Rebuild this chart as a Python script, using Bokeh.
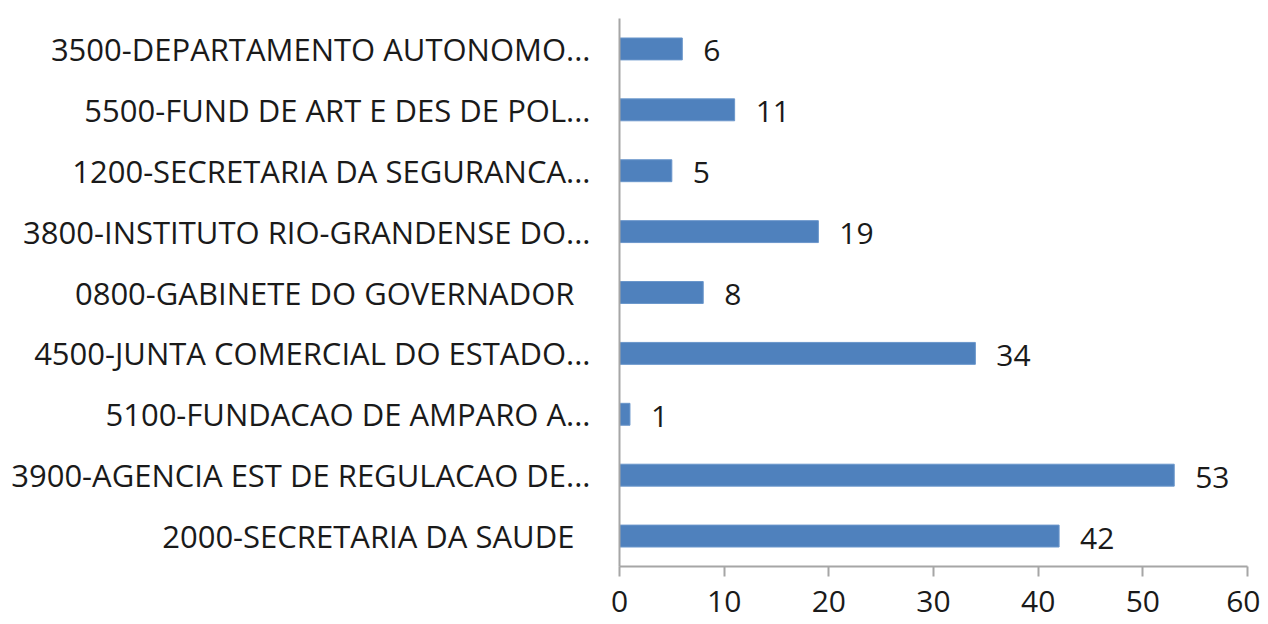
from bokeh.plotting import figure
from bokeh.models import ColumnDataSource, FactorRange, Range1d, FixedTicker, LabelSet
from bokeh.core.properties import value
from bokeh.embed import file_html
from bokeh.resources import INLINE

categories = [
    "3500-DEPARTAMENTO AUTONOMO...",
    "5500-FUND DE ART E DES DE POL...",
    "1200-SECRETARIA DA SEGURANCA...",
    "3800-INSTITUTO RIO-GRANDENSE DO...",
    "0800-GABINETE DO GOVERNADOR\u00a0\u00a0",
    "4500-JUNTA COMERCIAL DO ESTADO...",
    "5100-FUNDACAO DE AMPARO A...",
    "3900-AGENCIA EST DE REGULACAO DE...",
    "2000-SECRETARIA DA SAUDE\u00a0\u00a0",
]
values = [6, 11, 5, 19, 8, 34, 1, 53, 42]
x_ticks = [0, 10, 20, 30, 40, 50, 60]

FONT = "Open Sans"
FS = "30px"

src = ColumnDataSource(dict(cat=categories, val=values, lab=[str(v) for v in values]))

p = figure(
    y_range=FactorRange(factors=list(reversed(categories)), range_padding=0),
    x_range=Range1d(0, 60),
    width=1260, height=624,
    output_backend="svg", toolbar_location=None,
    min_border_left=619, min_border_right=13, min_border_top=18, min_border_bottom=58,
)
p.hbar(y="cat", right="val", height=0.36, source=src, color="#4F81BD", line_color="#6A96CB", line_width=1)

labels = LabelSet(x="val", y="cat", text="lab", source=src, x_offset=21, y_offset=-2,
                  text_baseline="middle", text_font=value(FONT), text_font_size=FS, text_color="#1a1a1a")
p.add_layout(labels)

p.xgrid.visible = False
p.ygrid.visible = False
p.outline_line_color = None

p.xaxis.ticker = FixedTicker(ticks=x_ticks)
p.xaxis.axis_line_color = "#A6A6A6"
p.xaxis.axis_line_width = 2
p.xaxis.major_tick_line_color = "#A6A6A6"
p.xaxis.major_tick_line_width = 2
p.xaxis.major_tick_out = 10
p.xaxis.major_tick_in = 0
p.xaxis.minor_tick_line_color = None
p.xaxis.major_label_text_font = FONT
p.xaxis.major_label_text_font_size = FS
p.xaxis.major_label_text_color = "#1a1a1a"
p.xaxis.major_label_standoff = 14

p.yaxis.axis_line_color = "#A6A6A6"
p.yaxis.axis_line_width = 2
p.yaxis.major_tick_line_color = None
p.yaxis.minor_tick_line_color = None
p.yaxis.major_label_text_font = FONT
p.yaxis.major_label_text_font_size = "31px"
p.yaxis.major_label_text_color = "#1a1a1a"
p.yaxis.major_label_standoff = 23

open("out.html", "w").write(file_html(p, INLINE))
